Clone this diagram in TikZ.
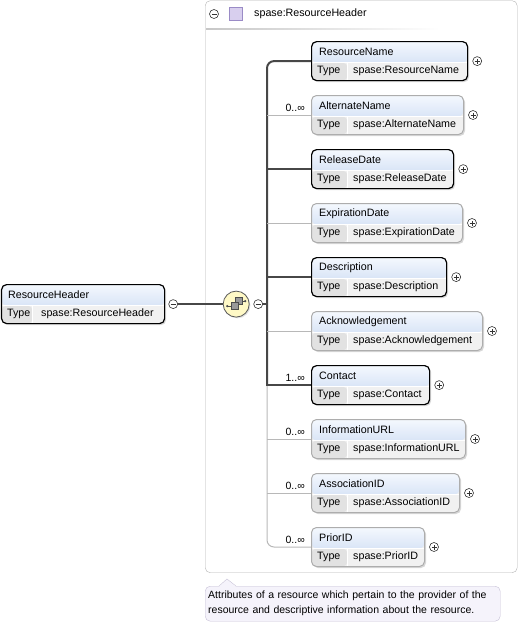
\documentclass[tikz,border=0pt]{standalone}
\usepackage{fontspec}
\setmainfont{Liberation Sans}
\usetikzlibrary{shadows}
\definecolor{hdtop}{HTML}{F4F8FE}
\definecolor{hdbot}{HTML}{C2D4F0}
\definecolor{typbg}{HTML}{E2E2E2}
\definecolor{valbg}{HTML}{F1F1F1}
\definecolor{seqbg}{HTML}{FFF9C6}
\definecolor{cplxbg}{HTML}{D8CFEE}
\definecolor{cplxbd}{HTML}{9A8BC6}
\definecolor{notebg}{HTML}{F5F3FB}
\definecolor{notebd}{HTML}{C6C0D6}

\begin{document}
\begin{tikzpicture}[
    x=1pt, y=-1pt,
    lbl/.style    = {font=\fontsize{10.7}{12}\selectfont, inner sep=0pt, anchor=west},
    card/.style   = {font=\fontsize{10.5}{11}\selectfont, inner sep=0pt, anchor=south east},
    tcol/.store in = \tcolw, tcol=36pt,
    ebox/.style   = {rectangle, rounded corners=5pt, minimum height=39pt, inner sep=0pt,
                     anchor=north west, fill=valbg,
                     drop shadow={shadow xshift=1.5pt, shadow yshift=-1.5pt, fill=black!30},
                     path picture={
                       \shade[top color=hdtop, bottom color=hdbot]
                         (path picture bounding box.north west) rectangle
                         ([yshift=-21pt]path picture bounding box.north east);
                       \fill[typbg] ([yshift=-21pt]path picture bounding box.north west)
                         rectangle ([xshift=\tcolw]path picture bounding box.south west);
                       \draw[white] ([yshift=-21pt]path picture bounding box.north west)
                         -- ([yshift=-21pt]path picture bounding box.north east);
                       \draw[white] ([xshift=\tcolw,yshift=-21pt]path picture bounding box.north west)
                         -- ([xshift=\tcolw]path picture bounding box.south west);
                     }},
    boxreq/.style = {ebox, draw=black, line width=1.2pt},
    boxopt/.style = {ebox, draw=black!32, line width=1pt},
    reqline/.style = {draw=black!72, line width=2pt},
    optline/.style = {draw=black!28, line width=1pt},
    pm/.style     = {circle, draw=black!80, fill=white, minimum size=9pt, inner sep=0pt,
                     line width=0.6pt},
    plus/.style   = {pm, path picture={\draw[line width=0.6pt]
                       ([xshift=-2.5pt]path picture bounding box.center) --
                       ([xshift=2.5pt]path picture bounding box.center)
                       ([yshift=-2.5pt]path picture bounding box.center) --
                       ([yshift=2.5pt]path picture bounding box.center);}},
    minus/.style  = {pm, path picture={\draw[line width=0.6pt]
                       ([xshift=-2.5pt]path picture bounding box.center) --
                       ([xshift=2.5pt]path picture bounding box.center);}},
    seq/.style    = {circle, draw=black!65, fill=seqbg, minimum size=26pt, inner sep=0pt,
                     line width=0.8pt,
                     drop shadow={shadow xshift=1.2pt, shadow yshift=-1.2pt, fill=black!25}},
    icon/.style   = {draw=black!70, line width=0.7pt},
    cplx/.style   = {rectangle, draw=cplxbd, fill=cplxbg, minimum size=13pt, inner sep=0pt},
    grp/.style    = {rectangle, draw=black!30, rounded corners=5pt, anchor=north west,
                     minimum width=312pt, minimum height=572pt, inner sep=0pt},
    note/.style   = {rectangle, draw=notebd, fill=notebg, rounded corners=5pt,
                     anchor=north west, text width=289pt, minimum height=35pt,
                     inner xsep=3pt, inner ysep=3pt, align=left,
                     font=\fontsize{10.5}{15}\selectfont},
  ]
  \useasboundingbox (0,0) rectangle (519,624);
  % group frame with its header
  \node[grp] (grp) at (205,0.5) {};
  \node[minus] (g-m) at (214,14) {};
  \node[cplx]  (g-sq) at (235.5,14) {};
  \node[lbl]   (g-n) at (254,14) {spase:ResourceHeader};
  \shade[left color=black!22, right color=white] (206,28) rectangle (440,29.5);
  % annotation
  \node[note] (doc) at (205,586) {Attributes of a resource which pertain to the provider of the\\
    resource and descriptive information about the resource.};
  \coordinate (tip) at (227,579);
  \fill[notebg] ([xshift=14pt,yshift=-0.8pt]doc.north west) -- (tip)
    -- ([xshift=31pt,yshift=-0.8pt]doc.north west) -- cycle;
  \draw[notebd] ([xshift=14pt]doc.north west) -- (tip) -- ([xshift=31pt]doc.north west);
  % the element itself
  \node[boxreq, minimum width=163pt, tcol=31pt] (rh) at (1,284) {};
  \node[lbl] (rh-n) at ([xshift=7pt,yshift=-11pt]rh.north west) {ResourceHeader};
  \node[lbl] (rh-t) at ([xshift=6pt,yshift=-30pt]rh.north west) {Type};
  \node[lbl] (rh-v) at ([xshift=40pt,yshift=-30pt]rh.north west) {spase:ResourceHeader};
  \node[minus] (rh-m) at ([xshift=8pt]rh.east) {};
  % sequence compositor
  \node[seq] (sq) at ([xshift=71pt]rh.east) {};
  \node[minus] (sq-m) at ([xshift=93pt]rh.east) {};
  \draw[icon] ([shift={(-9,2)}]sq.center) -- ([shift={(-4,2)}]sq.center);
  \draw[icon] ([shift={(5,-3)}]sq.center) -- ([shift={(9,-3)}]sq.center);
  \fill[black!70] ([shift={(-9,2)}]sq.center) circle (1.2) ([shift={(9,-3)}]sq.center) circle (1.2);
  \filldraw[icon, fill=black!40] ([shift={(-1,-7)}]sq.center) rectangle ([shift={(6,0)}]sq.center);
  \filldraw[icon, fill=black!40] ([shift={(-5,-2)}]sq.center) rectangle ([shift={(2,5)}]sq.center);
  % child elements
  \foreach \e/\yt/\w/\kind/\nm in {rn/41/156/boxreq/ResourceName,
      an/95/152/boxopt/AlternateName, rd/149/142/boxreq/ReleaseDate,
      ed/203/151/boxopt/ExpirationDate, ds/257/135/boxreq/Description,
      ak/311/171/boxopt/Acknowledgement, ct/365/118/boxreq/Contact,
      iu/419/154/boxopt/InformationURL, ai/473/148/boxopt/AssociationID,
      pi/527/113/boxopt/PriorID}{
    \node[\kind, minimum width=\w pt] (\e) at (311,\yt) {};
    \node[lbl] (\e-n) at ([xshift=8pt,yshift=-11pt]\e.north west) {\nm};
    \node[lbl] (\e-t) at ([xshift=6pt,yshift=-30pt]\e.north west) {Type};
    \node[lbl] (\e-v) at ([xshift=42pt,yshift=-30pt]\e.north west) {spase:\nm};
    \node[plus] (\e-x) at ([xshift=9pt]\e.east) {};
  }
  % connectors
  \coordinate (tk) at (267,0);
  \draw[reqline] (rh-m) -- (sq);
  \draw[reqline] (sq-m.east) -- (tk |- sq-m);
  \draw[optline, rounded corners=7pt] (tk |- ct.west) |- (pi.west);
  \draw[reqline, rounded corners=7pt] (rn.west) -| (tk |- ct.west);
  \draw[reqline, line cap=rect] (tk |- ct.west) -- ([xshift=-1pt]ct.west);
  \foreach \e in {rd,ds}{\draw[reqline] (tk |- \e.west) -- (\e.west);}
  \foreach \e in {an,ed,ak,iu,ai}{\draw[optline] (tk |- \e.west) -- (\e.west);}
  % occurrence labels
  \foreach \e/\c in {an/{0..∞}, ct/{1..∞}, iu/{0..∞}, ai/{0..∞}, pi/{0..∞}}{
    \node[card] (\e-c) at ([xshift=-6pt,yshift=3pt]\e.west) {\c};
  }
\end{tikzpicture}
\end{document}
